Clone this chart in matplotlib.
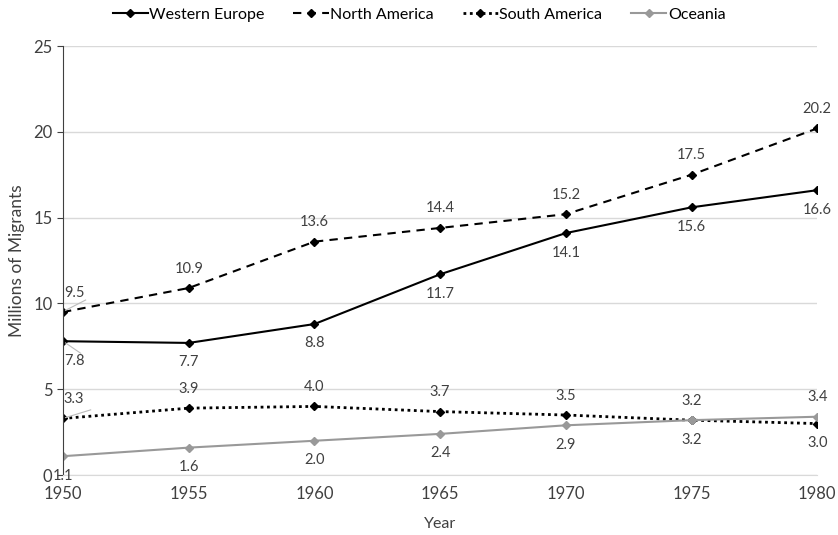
import matplotlib
matplotlib.use("Agg")
import matplotlib.pyplot as plt

plt.rcParams['font.family'] = ['Lato', 'DejaVu Sans']

years = [1950, 1955, 1960, 1965, 1970, 1975, 1980]
western_europe = [7.8, 7.7, 8.8, 11.7, 14.1, 15.6, 16.6]
north_america = [9.5, 10.9, 13.6, 14.4, 15.2, 17.5, 20.2]
south_america = [3.3, 3.9, 4.0, 3.7, 3.5, 3.2, 3.0]
oceania = [1.1, 1.6, 2.0, 2.4, 2.9, 3.2, 3.4]

fig = plt.figure(figsize=(8.38, 5.35), dpi=100)
ax = fig.add_axes([0.0752, 0.112, 0.9, 0.802])

ax.plot(years, western_europe, color='black', lw=1.5, ls='-', marker='D', ms=4.5, label='Western Europe')
ax.plot(years, north_america, color='black', lw=1.5, ls=(0, (4, 3)), marker='D', ms=4.5, label='North America')
ax.plot(years, south_america, color='black', lw=2, ls=(0, (1, 1.3)), marker='D', ms=4.5, label='South America')
ax.plot(years, oceania, color='#999999', lw=1.5, ls='-', marker='D', ms=4.5, label='Oceania')

lab = dict(fontsize=10.5, color='#404040', ha='center')
# western europe below, north america above
for i, (x, v) in enumerate(zip(years, western_europe)):
    dx = 8 if i == 0 else 0
    ax.annotate(f'{v:.1f}', (x, v), xytext=(dx, -14), textcoords='offset points', va='center', **lab)
for i, (x, v) in enumerate(zip(years, north_america)):
    dx = 8 if i == 0 else 0
    ax.annotate(f'{v:.1f}', (x, v), xytext=(dx, 14), textcoords='offset points', va='center', **lab)
# south america above except last
for i, (x, v) in enumerate(zip(years, south_america)):
    dx = 8 if i == 0 else 0
    dy = -14 if i == 6 else 14
    ax.annotate(f'{v:.1f}', (x, v), xytext=(dx, dy), textcoords='offset points', va='center', **lab)
# oceania below except last
for i, (x, v) in enumerate(zip(years, oceania)):
    dy = 14 if i == 6 else -14
    ax.annotate(f'{v:.1f}', (x, v), xytext=(0, dy), textcoords='offset points', va='center', **lab)

# leader lines near 1950
ax.plot([1950.1, 1950.9], [9.6, 10.2], color='#bbbbbb', lw=0.8)
ax.plot([1950.1, 1950.7], [7.7, 7.1], color='#bbbbbb', lw=0.8)
ax.plot([1950.1, 1951.1], [3.35, 3.8], color='#bbbbbb', lw=0.8)

ax.set_xlim(1950, 1980)
ax.set_ylim(0, 25)
ax.set_xticks(years)
ax.set_yticks([0, 5, 10, 15, 20, 25])
ax.yaxis.grid(True, color='#d9d9d9', lw=1)
ax.set_axisbelow(True)
for s in ['top', 'right']:
    ax.spines[s].set_visible(False)
ax.spines['bottom'].set_color('#d9d9d9')
ax.spines['left'].set_color('#404040')
ax.tick_params(axis='x', length=0, labelsize=12, pad=8, colors='#404040')
ax.tick_params(axis='y', length=4, labelsize=12, colors='#404040')
ax.tick_params(axis='y', color='#404040')
ax.set_xlabel('Year', fontsize=11.5, color='#404040', labelpad=11)
ax.set_ylabel('Millions of Migrants', fontsize=12.5, color='#404040', labelpad=6)

fig.legend(*ax.get_legend_handles_labels(), loc='center', bbox_to_anchor=(0.5, 0.972),
           ncol=4, frameon=False, fontsize=11.5, handlelength=2.2, columnspacing=1.8,
           handletextpad=0.1, markerscale=0.8)

fig.savefig('out.png', dpi=100)
